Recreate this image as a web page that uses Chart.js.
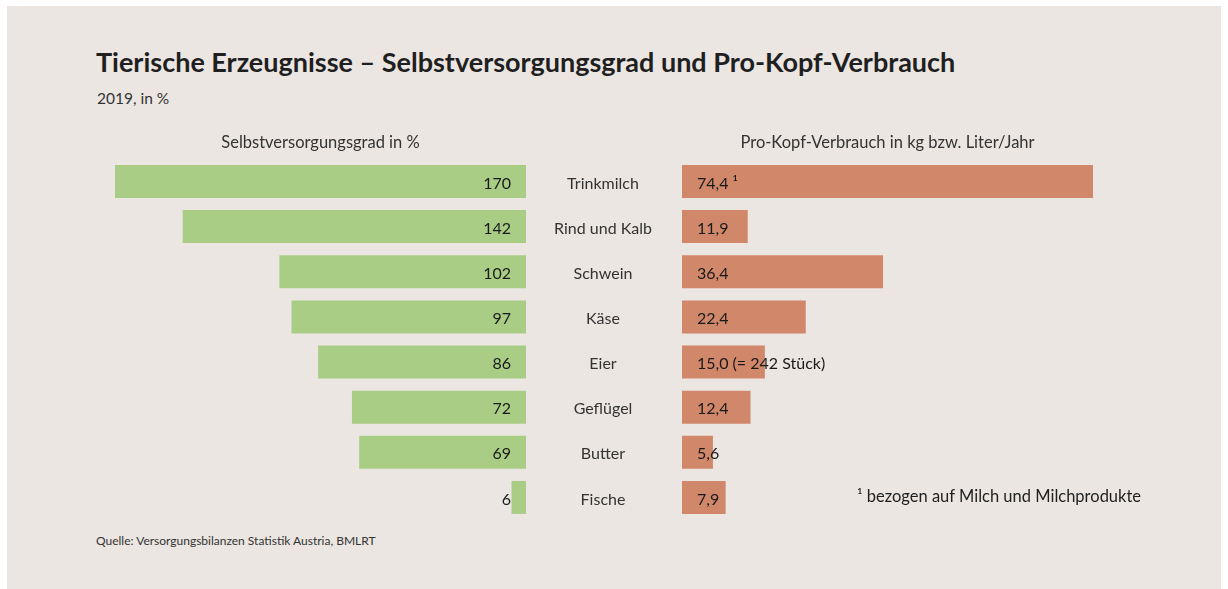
<!DOCTYPE html>
<html lang="de">
<head>
<meta charset="utf-8">
<title>Tierische Erzeugnisse</title>
<script src="https://cdn.jsdelivr.net/npm/chart.js@4"></script>
<style>
  html, body { margin: 0; padding: 0; background: #fff; }
  body { width: 1228px; height: 589px; position: relative; overflow: hidden; font-family: 'Lato', sans-serif; }
  #panel { position: absolute; left: 7px; top: 6px; width: 1214px; height: 583px; background: #ebe6e2; }
  .txt { position: absolute; color: #1f1f1f; white-space: nowrap; }
  #title { left: 96px; top: 45px; font-size: 27px; font-weight: 700; }
  #subtitle { left: 97px; top: 89px; font-size: 15.5px; color: #333; }
  #note { left: 857px; top: 486px; font-size: 16.5px; }
  #source { left: 96px; top: 533px; font-size: 12px; color: #333; }
  .box { position: absolute; }
  #leftBox { left: 115px; top: 133px; width: 411px; height: 387px; }
  #rightBox { left: 526px; top: 133px; width: 567px; height: 387px; }
</style>
</head>
<body>
<div id="panel"></div>
<div class="txt" id="title">Tierische Erzeugnisse – Selbstversorgungsgrad und Pro-Kopf-Verbrauch</div>
<div class="txt" id="subtitle">2019, in %</div>
<div class="box" id="leftBox"><canvas id="leftChart"></canvas></div>
<div class="box" id="rightBox"><canvas id="rightChart"></canvas></div>
<div class="txt" id="note">¹ bezogen auf Milch und Milchprodukte</div>
<div class="txt" id="source">Quelle: Versorgungsbilanzen Statistik Austria, BMLRT</div>
<script>
const categories = ['Trinkmilch', 'Rind und Kalb', 'Schwein', 'Käse', 'Eier', 'Geflügel', 'Butter', 'Fische'];
const selfSufficiency = [170, 142, 102, 97, 86, 72, 69, 6];
const perCapita = [74.4, 11.9, 36.4, 22.4, 15.0, 12.4, 5.6, 7.9];
const leftValueLabels = ['170', '142', '102', '97', '86', '72', '69', '6'];
const rightValueLabels = ['74,4 ¹', '11,9', '36,4', '22,4', '15,0 (= 242 Stück)', '12,4', '5,6', '7,9'];

Chart.defaults.font.family = 'Lato';
Chart.defaults.animation = false;

const valueLabels = {
  id: 'valueLabels',
  afterDatasetsDraw(chart, args, opts) {
    const ctx = chart.ctx;
    const meta = chart.getDatasetMeta(0);
    const xScale = chart.scales.x;
    const base = xScale.getPixelForValue(0);
    ctx.save();
    ctx.font = '16px Lato';
    ctx.fillStyle = '#1a1a1a';
    ctx.textBaseline = 'middle';
    meta.data.forEach((bar, i) => {
      if (opts.side === 'left') {
        ctx.textAlign = 'right';
        ctx.fillText(opts.labels[i], base - 15, bar.y + 2);
      } else {
        ctx.textAlign = 'left';
        ctx.fillText(opts.labels[i], base + 15, bar.y + 2);
      }
    });
    if (opts.categories) {
      ctx.fillStyle = '#333';
      ctx.textAlign = 'center';
      const yScale = chart.scales.y;
      opts.categories.forEach((c, i) => {
        ctx.fillText(c, chart.chartArea.left - 79, yScale.getPixelForValue(i) + 2);
      });
    }
    ctx.restore();
  }
};

function makeChart(id, data, color, max, reverse, header, padLeft, labels, cats) {
  return new Chart(document.getElementById(id), {
    type: 'bar',
    data: {
      labels: categories,
      datasets: [{
        data: data,
        backgroundColor: color,
        barPercentage: 0.731,
        categoryPercentage: 1
      }]
    },
    options: {
      indexAxis: 'y',
      responsive: true,
      maintainAspectRatio: false,
      layout: { padding: { left: padLeft, right: 0, top: 0, bottom: 0 } },
      scales: {
        x: { display: false, min: 0, max: max, reverse: reverse },
        y: { display: false }
      },
      plugins: {
        legend: { display: false },
        tooltip: { enabled: false },
        title: {
          display: true,
          text: header,
          color: '#333',
          font: { size: 16.5, weight: 'normal' },
          padding: { top: 0, bottom: 6.1 }
        },
        valueLabels: { side: reverse ? 'left' : 'right', labels: labels, categories: cats }
      }
    },
    plugins: [valueLabels]
  });
}

makeChart('leftChart', selfSufficiency, '#aacd86', 170, true, 'Selbstversorgungsgrad in %', 0, leftValueLabels, null);
makeChart('rightChart', perCapita, '#d0876a', 74.4, false, 'Pro-Kopf-Verbrauch in kg bzw. Liter/Jahr', 156, rightValueLabels, categories);
</script>
</body>
</html>
